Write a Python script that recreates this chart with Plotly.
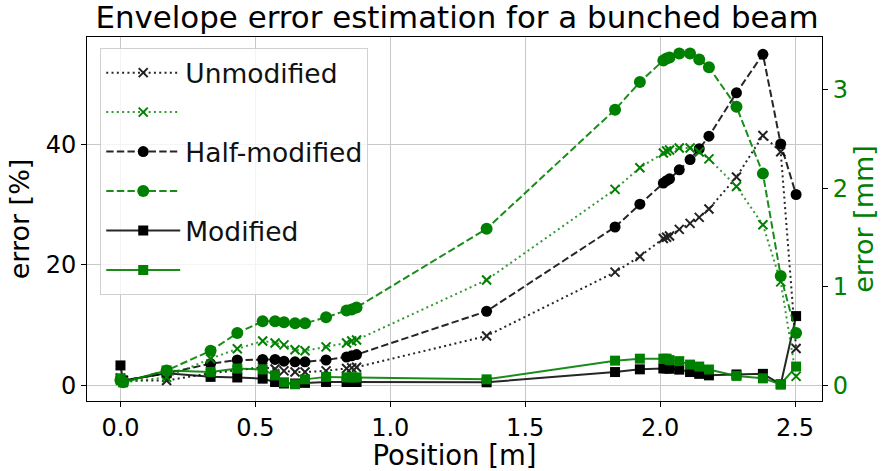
import plotly.graph_objects as go

# Positions along the beamline [m]
position = [0.0, 0.01, 0.171, 0.334, 0.433, 0.527, 0.573, 0.606, 0.647, 0.684,
            0.762, 0.838, 0.857, 0.875, 1.357, 1.833, 1.925, 2.012, 2.024, 2.035,
            2.071, 2.111, 2.145, 2.181, 2.283, 2.381, 2.447, 2.504]

# Relative envelope error [%]
err_pct_unmod = [1.2, 0.8, 0.8, 2.0, 2.5, 3.0, 2.7, 2.4, 2.2, 2.2,
                 2.4, 2.8, 2.9, 3.0, 8.2, 18.8, 21.4, 24.4, 24.6, 24.8,
                 25.9, 26.9, 27.9, 29.3, 34.6, 41.5, 38.8, 6.1]
err_pct_half = [1.0, 0.8, 2.0, 3.6, 4.2, 4.3, 4.3, 4.0, 3.9, 3.9,
                4.2, 4.7, 4.9, 5.1, 12.3, 26.3, 30.1, 33.6, 34.0, 34.3,
                35.8, 37.5, 39.3, 41.4, 48.6, 55.0, 40.1, 31.7]
err_pct_mod = [3.3, 0.8, 2.0, 1.4, 1.3, 1.1, 0.55, 0.3, 0.3, 0.4,
               0.55, 0.55, 0.55, 0.55, 0.5, 2.2, 2.65, 2.8, 2.8, 2.75,
               2.6, 2.2, 1.9, 1.65, 1.8, 1.9, 0.15, 11.5]

# Absolute envelope error [mm]
err_mm_unmod = [0.05, 0.03, 0.08, 0.27, 0.37, 0.45, 0.43, 0.41, 0.36, 0.35,
                0.39, 0.43, 0.45, 0.46, 1.07, 1.99, 2.21, 2.36, 2.38, 2.39,
                2.41, 2.41, 2.37, 2.30, 2.02, 1.63, 1.05, 0.09]
err_mm_half = [0.05, 0.03, 0.15, 0.35, 0.53, 0.65, 0.65, 0.64, 0.63, 0.63,
               0.69, 0.76, 0.77, 0.79, 1.59, 2.80, 3.08, 3.30, 3.32, 3.33,
               3.37, 3.37, 3.31, 3.23, 2.83, 2.15, 1.11, 0.53]
err_mm_mod = [0.07, 0.03, 0.15, 0.135, 0.17, 0.16, 0.10, 0.03, 0.01, 0.06,
              0.085, 0.08, 0.08, 0.08, 0.06, 0.25, 0.27, 0.27, 0.27, 0.255,
              0.245, 0.21, 0.19, 0.16, 0.095, 0.07, 0.01, 0.19]

x_ticks = [0.0, 0.5, 1.0, 1.5, 2.0, 2.5]
pct_ticks = [0, 20, 40]
mm_ticks = [0, 1, 2, 3]

FONT = "DejaVu Sans"
BLACK = "rgba(0,0,0,0.85)"
GREEN = "#008000"
DOT = "2px,3.3px"
DASH = "7.4px,3.2px"

fig = go.Figure()

series = [
    ("Unmodified", err_pct_unmod, "y", BLACK, "#222", DOT, "x-thin", 9, 1),
    ("Half-modified", err_pct_half, "y", BLACK, "#000", DASH, "circle", 11, 3),
    ("Modified", err_pct_mod, "y", BLACK, "#000", "solid", "square", 10, 5),
    (" ", err_mm_unmod, "y2", "rgba(0,128,0,0.8)", GREEN, DOT, "x-thin", 9, 2),
    ("  ", err_mm_half, "y2", "rgba(0,128,0,0.9)", GREEN, DASH, "circle", 12, 4),
    ("   ", err_mm_mod, "y2", "rgba(0,128,0,0.9)", GREEN, "solid", "square", 10, 6),
]

for name, vals, yax, lcol, mcol, dash, sym, size, rank in series:
    fig.add_trace(go.Scatter(
        x=position, y=vals, yaxis=yax, name=name, mode="lines+markers",
        line=dict(color=lcol, width=2, dash=dash),
        marker=dict(symbol=sym, size=size, color=mcol,
                    line=dict(color=mcol, width=2 if "x" in sym else 0)),
        legendrank=rank, legendgroup=f"g{rank}",
    ))

fig.update_layout(
    width=889, height=471,
    margin=dict(l=87, r=67, t=37, b=70),
    paper_bgcolor="white", plot_bgcolor="white",
    font=dict(family=FONT, color="black", size=22),
    title=dict(text="Envelope error estimation for a bunched beam",
               font=dict(size=30.9, family=FONT, color="black"),
               x=0.514, xanchor="center", y=0.963, yanchor="middle",
               xref="container", yref="container", automargin=False),
    showlegend=True,
    legend=dict(x=0.018, y=0.97, xanchor="left", yanchor="top",
                bgcolor="rgba(255,255,255,0.8)", bordercolor="#d0d0d0",
                borderwidth=1, font=dict(size=26.5, family=FONT, color="#111"),
                tracegroupgap=2, itemwidth=74),
    xaxis=dict(range=[-0.124, 2.60], tickvals=x_ticks,
               ticktext=[f"{t:.1f}" for t in x_ticks],
               showgrid=True, gridcolor="#c8c8c8", gridwidth=1,
               zeroline=False, showline=True, linecolor="black", linewidth=1,
               mirror=True, ticks="outside", ticklen=5, tickcolor="black",
               tickfont=dict(size=24), automargin=False,
               title=dict(text="Position [m]", font=dict(size=27.5), standoff=3)),
    yaxis=dict(range=[-2.61, 57.87], tickvals=pct_ticks,
               showgrid=True, gridcolor="#c8c8c8", gridwidth=1,
               zeroline=False, showline=True, linecolor="black", linewidth=1,
               ticks="outside", ticklen=5, tickcolor="black",
               tickfont=dict(size=24), automargin=False,
               title=dict(text="error [%]", font=dict(size=27), standoff=8)),
    yaxis2=dict(range=[-0.16, 3.538], tickvals=mm_ticks, overlaying="y",
                side="right", showgrid=False, zeroline=False,
                showline=True, linecolor="black", linewidth=1,
                ticks="outside", ticklen=5, tickcolor="black",
                tickfont=dict(size=24, color=GREEN), automargin=False,
                title=dict(text="error [mm]", font=dict(size=27, color=GREEN),
                           standoff=2)),
)

fig.write_html("out.html")
